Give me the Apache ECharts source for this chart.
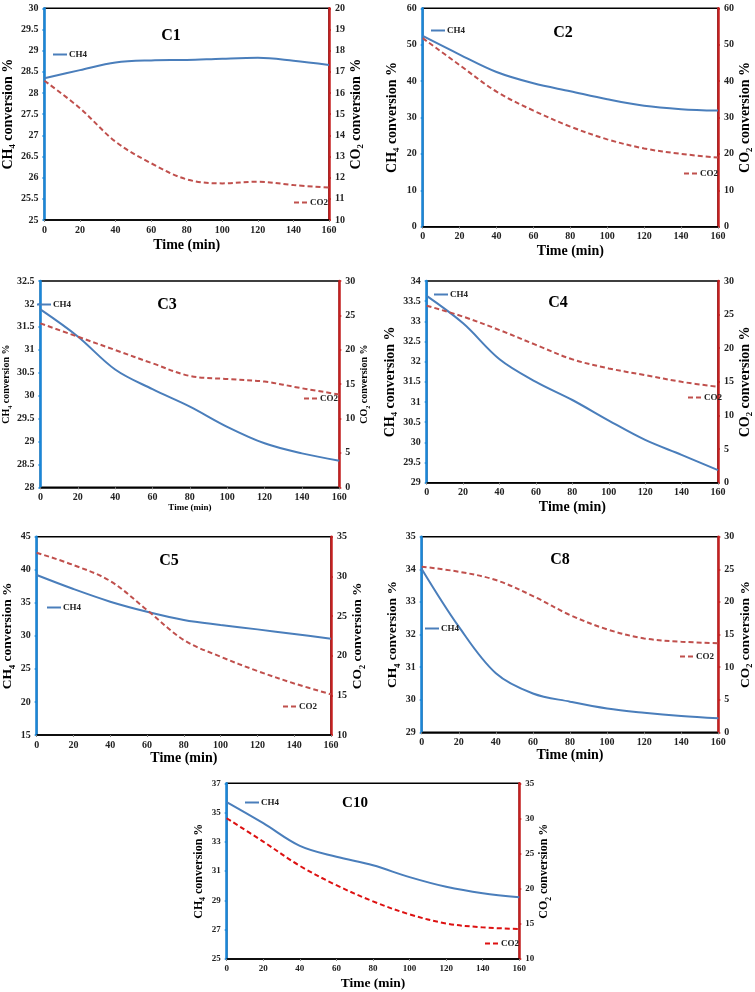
<!DOCTYPE html>
<html>
<head>
<meta charset="utf-8">
<script src="https://cdn.jsdelivr.net/npm/echarts@6/dist/echarts.min.js"></script>
<style>html,body{margin:0;padding:0;background:#fff}#c{width:755px;height:992px}</style>
</head>
<body>
<div id="c"></div>
<script>
// ---- data ----
const time = [0, 20, 40, 60, 80, 100, 120, 140, 160];
const xTicks = [0, 20, 40, 60, 80, 100, 120, 140, 160];

const c1_ch4 = [28.35, 28.54, 28.72, 28.77, 28.78, 28.81, 28.83, 28.76, 28.66];
const c1_co2 = [16.58, 15.28, 13.70, 12.68, 11.92, 11.73, 11.81, 11.65, 11.53];

const c2_ch4 = [52.4, 47.3, 42.5, 39.4, 37.2, 35.0, 33.2, 32.3, 31.9];
const c2_co2 = [51.8, 44.4, 37.1, 31.9, 27.5, 24.0, 21.5, 20.0, 19.0];

const c3_ch4 = [31.88, 31.29, 30.57, 30.14, 29.76, 29.32, 28.96, 28.74, 28.58];
const c3_co2 = [23.84, 21.9, 19.97, 18.03, 16.19, 15.75, 15.37, 14.4, 13.5];

const c4_ch4 = [33.63, 32.95, 32.06, 31.5, 31.05, 30.54, 30.06, 29.69, 29.31];
const c4_co2 = [26.33, 24.7, 22.7, 20.5, 18.35, 17.0, 16.0, 15.0, 14.26];

const c5_ch4 = [39.2, 37.08, 35.17, 33.65, 32.4, 31.64, 30.98, 30.28, 29.57];
const c5_co2 = [32.98, 31.43, 29.41, 25.76, 21.97, 19.87, 18.07, 16.5, 15.13];

const c8_ch4 = [34.01, 32.24, 30.81, 30.19, 29.94, 29.73, 29.6, 29.5, 29.43];
const c8_co2 = [25.4, 24.63, 23.35, 20.9, 17.99, 15.79, 14.4, 13.9, 13.65];

const c10_ch4 = [35.72, 34.28, 32.73, 31.98, 31.4, 30.59, 29.93, 29.49, 29.22];
const c10_co2 = [30.03, 26.7, 23.25, 20.5, 18.2, 16.35, 15.06, 14.5, 14.28];

const panelNames = ['C1', 'C2', 'C3', 'C4', 'C5', 'C8', 'C10'];
const ch4Series = [c1_ch4, c2_ch4, c3_ch4, c4_ch4, c5_ch4, c8_ch4, c10_ch4];
const co2Series = [c1_co2, c2_co2, c3_co2, c4_co2, c5_co2, c8_co2, c10_co2];
// axis ranges [min, max, interval]
const leftRanges  = [[25, 30, 0.5], [0, 60, 10], [28, 32.5, 0.5], [29, 34, 0.5], [15, 45, 5], [29, 35, 1], [25, 37, 2]];
const rightRanges = [[10, 20, 1], [0, 60, 10], [0, 30, 5], [0, 30, 5], [10, 35, 5], [0, 30, 5], [10, 35, 5]];

// ---- layout / style ----
const layout = [
  {grid:[36.7, 8.3, 292.3, 211.7], title:[166, 32], lg1:[52, 54], lg2:[293, 202], nf:14, tf:10, lnGap:21, rnGap:18, xGap:18},
  {grid:[422.7, 8.3, 296.6, 218.4], title:[558, 29], lg1:[430, 30], lg2:[683, 173], nf:14, tf:10, lnGap:21, rnGap:18, xGap:18},
  {grid:[31.7, 281, 307.6, 206.3], title:[162, 301], lg1:[36, 304], lg2:[303, 398], nf:10, tf:10, lnGap:23, rnGap:16, xnf:9, xGap:14},
  {grid:[426.7, 281, 296.6, 201.7], title:[553, 299], lg1:[433, 294], lg2:[687, 397], nf:14, tf:10, lnGap:21, rnGap:18, xGap:18},
  {grid:[27.7, 536.7, 303.3, 198.3], title:[164, 557], lg1:[46, 607], lg2:[282, 706], nf:13.5, tf:10, lnGap:18, rnGap:18, xGap:15},
  {grid:[421.7, 536.7, 297.6, 195.6], title:[555, 556], lg1:[424, 628], lg2:[679, 656], nf:13.5, tf:10, lnGap:20, rnGap:18, xGap:16},
  {grid:[226.7, 783.3, 292.6, 181], title:[350, 800], lg1:[244, 802], lg2:[484, 943], nf:12, tf:9, lnGap:20, rnGap:16, xnf:13.5, xGap:18}
];
const FONT = 'Liberation Serif';
const BLUE_AX = '#1a86d8', RED_AX = '#c62020';
const CH4_COL = '#4a7ebb', CO2_COL = '#c0504d', CO2_COL10 = '#dd1111';

function nameRich(main, sub, fs) {
  return {
    text: '{a|' + main.split('|')[0] + '}{s|' + sub + '}{a|' + main.split('|')[1] + '}',
    rich: {
      a: {fontFamily: FONT, fontWeight: 'bold', fontSize: fs, color: '#000', lineHeight: fs + 4},
      s: {fontFamily: FONT, fontWeight: 'bold', fontSize: fs * 0.62, color: '#000', verticalAlign: 'bottom', lineHeight: fs + 4}
    }
  };
}

const grids = [], xAxes = [], yAxes = [], series = [], titles = [], legends = [];
panelNames.forEach((pn, i) => {
  const L = layout[i];
  grids.push({left: L.grid[0], top: L.grid[1], width: L.grid[2], height: L.grid[3],
    show: true, borderColor: '#000', borderWidth: 1.5, backgroundColor: 'transparent'});
  xAxes.push({
    type: 'value', gridIndex: i, min: xTicks[0], max: xTicks[xTicks.length - 1], interval: 20,
    name: 'Time (min)', nameLocation: 'middle', nameGap: L.xGap,
    nameTextStyle: {fontFamily: FONT, fontWeight: 'bold', fontSize: L.xnf || 14, color: '#000'},
    axisLine: {show: true, lineStyle: {color: '#000', width: 1.5}},
    axisTick: {show: true, length: 2, lineStyle: {color: '#888'}},
    axisLabel: {fontFamily: FONT, fontWeight: 'bold', fontSize: L.tf, color: '#222', margin: 5},
    splitLine: {show: false}
  });
  const ln = nameRich('CH|' + ' conversion %', '4', L.nf);
  const rn = nameRich('CO|' + ' conversion %', '2', L.nf);
  const lr = leftRanges[i], rr = rightRanges[i];
  yAxes.push({
    type: 'value', gridIndex: i, position: 'left', min: lr[0], max: lr[1], interval: lr[2],
    name: ln.text, nameLocation: 'middle', nameRotate: 90, nameGap: L.lnGap,
    nameTextStyle: {rich: ln.rich},
    axisLine: {show: true, lineStyle: {color: BLUE_AX, width: 2.5}},
    axisTick: {show: true, length: 2, lineStyle: {color: BLUE_AX, width: 1.5}},
    axisLabel: {fontFamily: FONT, fontWeight: 'bold', fontSize: L.tf, color: '#222', margin: 6},
    splitLine: {show: false}
  });
  yAxes.push({
    type: 'value', gridIndex: i, position: 'right', min: rr[0], max: rr[1], interval: rr[2],
    name: rn.text, nameLocation: 'middle', nameRotate: 90, nameGap: L.rnGap,
    nameTextStyle: {rich: rn.rich},
    axisLine: {show: true, lineStyle: {color: RED_AX, width: 2.5}},
    axisTick: {show: true, length: 2, lineStyle: {color: RED_AX, width: 1.5}},
    axisLabel: {fontFamily: FONT, fontWeight: 'bold', fontSize: L.tf, color: '#222', margin: 6},
    splitLine: {show: false}
  });
  const n1 = 'CH4·' + i, n2 = 'CO2·' + i;
  series.push({
    name: n1, type: 'line', xAxisIndex: i, yAxisIndex: 2 * i, smooth: 0.35,
    symbol: 'circle', showSymbol: false, symbolSize: 0,
    lineStyle: {color: CH4_COL, width: 2}, itemStyle: {color: CH4_COL},
    data: time.map((t, k) => [t, ch4Series[i][k]])
  });
  const cc = i === 6 ? CO2_COL10 : CO2_COL;
  series.push({
    name: n2, type: 'line', xAxisIndex: i, yAxisIndex: 2 * i + 1, smooth: 0.35,
    symbol: 'circle', showSymbol: false, symbolSize: 0,
    lineStyle: {color: cc, width: 2, type: [5, 3]}, itemStyle: {color: cc},
    data: time.map((t, k) => [t, co2Series[i][k]])
  });
  titles.push({text: pn, left: L.title[0], top: L.title[1] - 9, textAlign: 'center',
    textStyle: {fontFamily: FONT, fontWeight: 'bold', fontSize: i === 6 ? 15 : 16, color: '#000'}});
  const lgBase = {orient: 'horizontal', padding: 0, itemWidth: 14, itemHeight: 8, itemGap: 2,
    selectedMode: false, formatter: s => s.split('·')[0],
    itemStyle: {opacity: 0},
    textStyle: {fontFamily: FONT, fontWeight: 'bold', fontSize: 9, color: '#222', padding: [0, 0, 0, -3]}};
  legends.push(Object.assign({}, lgBase, {data: [n1], left: L.lg1[0], top: L.lg1[1] - 4}));
  legends.push(Object.assign({}, lgBase, {data: [n2], left: L.lg2[0], top: L.lg2[1] - 4}));
});

const chart = echarts.init(document.getElementById('c'), null, {renderer: 'canvas'});
chart.setOption({
  animation: false,
  backgroundColor: '#fff',
  title: titles,
  legend: legends,
  grid: grids,
  xAxis: xAxes,
  yAxis: yAxes,
  series: series
});
</script>
</body>
</html>
